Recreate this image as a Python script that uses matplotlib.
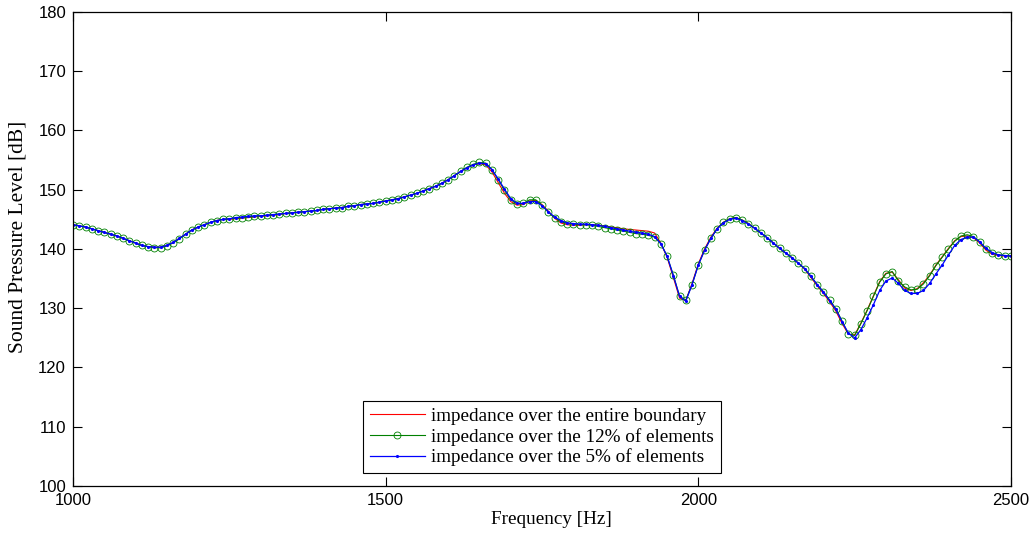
import numpy as np
import matplotlib
matplotlib.use("Agg")
import matplotlib.pyplot as plt

# ----------------------------- data ------------------------------------ #
freq = np.arange(1000, 2501, 10)

# impedance over the 5% of elements (blue)
spl_5 = [
    144.1, 143.9, 143.7, 143.4, 143.1, 142.8, 142.5, 142.2, 141.8, 141.4,   # 1000-1090
    141.0, 140.6, 140.4, 140.3, 140.3, 140.6, 141.1, 141.8, 142.5, 143.2,   # 1100-1190
    143.7, 144.1, 144.5, 144.8, 145.0, 145.1, 145.3, 145.4, 145.5, 145.6,   # 1200-1290
    145.6, 145.7, 145.8, 145.9, 146.0, 146.1, 146.2, 146.3, 146.4, 146.5,   # 1300-1390
    146.7, 146.8, 146.9, 147.0, 147.2, 147.3, 147.5, 147.6, 147.7, 147.9,   # 1400-1490
    148.1, 148.3, 148.5, 148.8, 149.1, 149.4, 149.8, 150.2, 150.6, 151.1,   # 1500-1590
    151.7, 152.4, 153.1, 153.7, 154.2, 154.5, 154.4, 153.4, 151.8, 150.1,   # 1600-1690
    148.5, 147.7, 147.7, 148.0, 148.0, 147.3, 146.3, 145.4, 144.8, 144.4,   # 1700-1790
    144.3, 144.2, 144.2, 144.1, 144.0, 143.8, 143.6, 143.4, 143.2, 143.0,   # 1800-1890
    142.8, 142.7, 142.5, 142.1, 140.9, 138.8, 135.5, 132.0, 131.2, 134.0,   # 1900-1990
    137.3, 139.8, 141.8, 143.4, 144.4, 145.0, 145.2, 144.8, 144.2, 143.5,   # 2000-2090
    142.7, 141.9, 141.0, 140.1, 139.3, 138.5, 137.6, 136.7, 135.4, 134.0,   # 2100-2190
    132.7, 131.3, 129.8, 127.7, 125.8, 125.0, 126.4, 128.4, 130.6, 133.0,   # 2200-2290
    134.6, 135.1, 134.2, 133.0, 132.5, 132.5, 133.0, 134.2, 135.8, 137.3,   # 2300-2390
    139.0, 140.6, 141.6, 142.0, 142.0, 141.2, 140.1, 139.4, 139.0, 138.9,   # 2400-2490
    138.8,                                                                  # 2500
]

# impedance over the 12% of elements (green)
spl_12 = [
    144.1, 143.9, 143.7, 143.4, 143.1, 142.8, 142.5, 142.2, 141.8, 141.4,
    141.0, 140.6, 140.4, 140.2, 140.2, 140.5, 141.0, 141.7, 142.5, 143.2,
    143.7, 144.1, 144.5, 144.8, 145.0, 145.1, 145.2, 145.3, 145.4, 145.5,
    145.6, 145.7, 145.8, 145.9, 146.0, 146.1, 146.2, 146.3, 146.4, 146.5,
    146.7, 146.8, 146.9, 147.0, 147.2, 147.3, 147.5, 147.6, 147.7, 147.9,
    148.1, 148.3, 148.5, 148.8, 149.1, 149.4, 149.8, 150.2, 150.6, 151.1,
    151.7, 152.4, 153.1, 153.8, 154.3, 154.6, 154.5, 153.4, 151.7, 149.9,
    148.3, 147.6, 147.7, 148.3, 148.3, 147.4, 146.2, 145.3, 144.6, 144.3,
    144.2, 144.1, 144.1, 144.0, 143.8, 143.6, 143.4, 143.2, 143.0, 142.8,
    142.6, 142.5, 142.3, 142.0, 140.9, 138.8, 135.6, 132.0, 131.4, 134.0,
    137.3, 139.8, 141.8, 143.4, 144.5, 145.1, 145.3, 144.9, 144.3, 143.5,
    142.7, 141.9, 141.0, 140.1, 139.3, 138.5, 137.6, 136.7, 135.4, 134.0,
    132.8, 131.4, 129.9, 127.8, 125.6, 125.4, 127.4, 129.6, 132.0, 134.4,
    135.8, 136.2, 134.6, 133.6, 133.1, 133.2, 134.1, 135.5, 137.2, 138.6,
    140.0, 141.3, 142.2, 142.4, 142.1, 141.2, 140.0, 139.3, 139.0, 138.9,
    138.8,
]

# impedance over the entire boundary (red)
spl_full = [
    144.1, 143.9, 143.7, 143.4, 143.1, 142.8, 142.5, 142.2, 141.8, 141.4,
    141.0, 140.6, 140.4, 140.3, 140.3, 140.6, 141.1, 141.8, 142.5, 143.2,
    143.7, 144.1, 144.5, 144.8, 145.0, 145.0, 145.1, 145.2, 145.3, 145.4,
    145.5, 145.6, 145.7, 145.8, 146.0, 146.1, 146.2, 146.3, 146.4, 146.5,
    146.7, 146.8, 146.9, 147.0, 147.2, 147.3, 147.5, 147.6, 147.7, 147.9,
    148.1, 148.3, 148.5, 148.8, 149.1, 149.4, 149.8, 150.2, 150.6, 151.1,
    151.7, 152.4, 153.1, 153.7, 154.2, 154.4, 154.2, 153.0, 151.2, 149.4,
    148.0, 147.4, 147.5, 148.1, 148.2, 147.5, 146.4, 145.2, 144.4, 144.1,
    144.0, 144.0, 144.1, 144.1, 144.0, 143.9, 143.7, 143.6, 143.4, 143.3,
    143.2, 143.1, 143.0, 142.7, 141.0, 138.6, 135.2, 131.7, 131.3, 134.2,
    137.5, 140.0, 142.0, 143.5, 144.5, 145.1, 145.3, 144.9, 144.3, 143.5,
    142.7, 141.9, 141.0, 140.1, 139.3, 138.5, 137.6, 136.6, 135.2, 133.8,
    132.5, 131.1, 129.5, 127.4, 125.6, 125.5, 127.5, 129.7, 132.1, 134.5,
    135.9, 136.1, 134.8, 133.4, 133.0, 133.3, 134.3, 135.6, 137.3, 138.7,
    140.1, 141.4, 142.1, 142.2, 141.9, 141.0, 139.8, 139.1, 138.9, 138.8,
    138.8,
]

labels = ['impedance over the entire boundary',
          'impedance over the 12% of elements',
          'impedance over the 5% of elements']

# ----------------------------- plot ------------------------------------ #
fig = plt.figure(figsize=(10.33, 5.38), dpi=100)
ax = fig.add_axes([0.0707, 0.0967, 0.908, 0.881])

ax.plot(freq, spl_full, color='#ff0000', lw=0.8, label=labels[0])
ax.plot(freq, spl_12, color='#008000', lw=0.8, marker='o', markersize=5,
        markerfacecolor='none', markeredgewidth=0.6, label=labels[1])
ax.plot(freq, spl_5, color='#0000ff', lw=0.9, marker='.', markersize=2.5,
        label=labels[2])

ax.set_xlim(1000, 2500)
ax.set_ylim(100, 180)
ax.set_xticks([1000, 1500, 2000, 2500])
ax.set_yticks(np.arange(100, 181, 10))
ax.tick_params(direction='in', length=6.5, width=0.8, top=True, right=True,
               labelsize=12, pad=5)
for lab in ax.get_xticklabels() + ax.get_yticklabels():
    lab.set_family('Liberation Sans')
for sp in ax.spines.values():
    sp.set_linewidth(0.9)

ax.set_xlabel('Frequency [Hz]', family='Liberation Serif', fontsize=13.8)
ax.set_ylabel('Sound Pressure Level [dB]', family='Liberation Serif',
              fontsize=15.5)
ax.xaxis.set_label_coords(0.51, -0.052)
ax.yaxis.set_label_coords(-0.049, 0.525)

leg = ax.legend(loc='lower center', bbox_to_anchor=(0.5, 0.027),
                borderaxespad=0, prop={'family': 'Liberation Serif', 'size': 13.8},
                fancybox=False, framealpha=1, edgecolor='black',
                handlelength=2.85, handletextpad=0.35, labelspacing=0.15,
                borderpad=0.35, numpoints=1)
leg.get_frame().set_linewidth(0.8)

fig.savefig('out.png', dpi=100)
